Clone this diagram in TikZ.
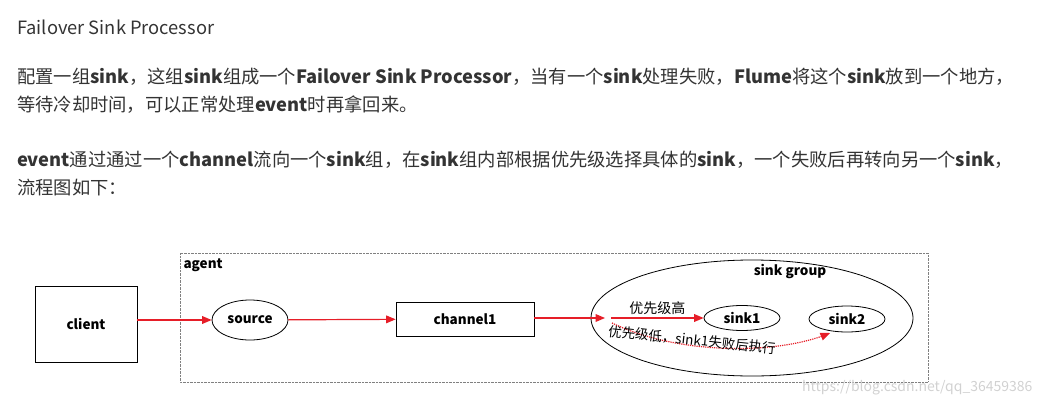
\documentclass[tikz,border=0pt]{standalone}
\usepackage{fontspec}
\setmainfont{Noto Sans CJK SC}
\usetikzlibrary{shapes,arrows}
\definecolor{flowred}{RGB}{230,30,40}
\definecolor{txtgray}{RGB}{51,51,51}

\begin{document}
\begin{tikzpicture}[x=1pt,y=-1pt]
    \useasboundingbox (0,0) rectangle (1045,407);
    \tikzset{
        para/.style={anchor=west, inner sep=0pt, text=txtgray, font=\fontsize{18.3}{20}\selectfont},
        lbl/.style={font=\fontsize{13.5}{15}\selectfont\bfseries},
        flow/.style={flowred, line width=1.2pt, -triangle 45},
    }
    % text above the picture
    \node[para] (title) at (17,27) {Failover Sink Processor};
    \node[para] (p1) at (17,77) {配置一组\textbf{sink}，这组\textbf{sink}组成一个\textbf{Failover Sink Processor}，当有一个\textbf{sink}处理失败，\textbf{Flume}将这个\textbf{sink}放到一个地方，};
    \node[para] (p2) at (17,105) {等待冷却时间，可以正常处理\textbf{event}时再拿回来。};
    \node[para] (p3) at (17,160) {\textbf{event}通过通过一个\textbf{channel}流向一个\textbf{sink}组，在\textbf{sink}组内部根据优先级选择具体的\textbf{sink}，一个失败后再转向另一个\textbf{sink}，};
    \node[para] (p4) at (17,188) {流程图如下：};
    % boxes
    \draw [densely dotted, gray] (180,253) rectangle (928,382);
    \node[lbl, anchor=west] (agent) at (180,265) {agent};
    \node[draw, thick, lbl, minimum width=102pt, minimum height=76pt] (client) at (86,324) {client};
    \node[draw, thick, ellipse, lbl, minimum width=76pt, minimum height=40pt] (source) at (250,320) {source};
    \node[draw, thick, lbl, minimum width=138pt, minimum height=34pt] (channel) at (465,319) {channel1};
    \node[draw, thick, ellipse, minimum width=322pt, minimum height=116pt] (group) at (752,318) {};
    \node[lbl] (grouplbl) at (790,272) {sink group};
    \node[draw, thick, ellipse, lbl, minimum width=76pt, minimum height=25pt, inner sep=0pt] (sink1) at (742,318) {sink1};
    \node[draw, thick, ellipse, lbl, minimum width=76pt, minimum height=26pt, inner sep=0pt] (sink2) at (847,319) {sink2};
    \coordinate (split) at (611,318);
    \coordinate (lowstart) at (612,323);
    % arrows
    \draw [flow] (client.east |- source) -- (source);
    \draw [flow] (source) -- (channel);
    \draw [flow] (channel.east |- split) -- (605,318);
    \draw [flow] (split) -- node[above=-1pt, black, font=\fontsize{14}{15}\selectfont] {优先级高} (sink1.west);
    \draw [flowred, line width=1.2pt, densely dotted, -triangle 45] (lowstart) .. controls (680,356) and (780,354) .. (830,333);
    \node[rotate=-6, inner sep=0pt, font=\fontsize{13.5}{15}\selectfont] (lowlbl) at (692,340) {优先级低，sink1失败后执行};
    \node[anchor=east, text=black!18, font=\fontsize{14}{16}\selectfont] (mark) at (1036,388) {https://blog.csdn.net/qq\_36459386};
\end{tikzpicture}
\end{document}
